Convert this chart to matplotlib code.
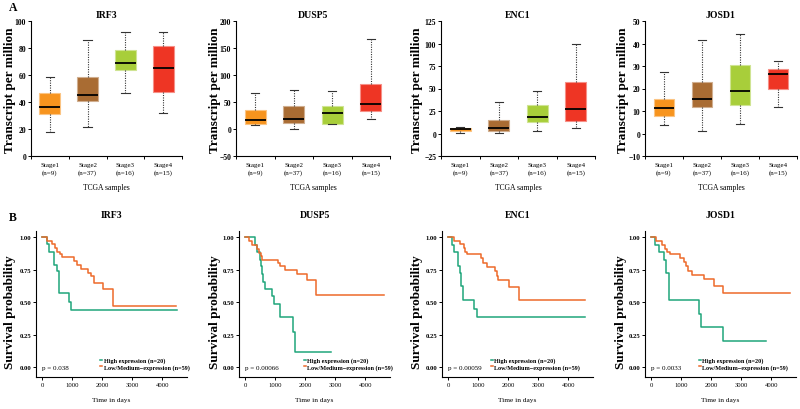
import matplotlib
matplotlib.use("Agg")
import matplotlib.pyplot as plt
import numpy as np

plt.rcParams['font.family'] = ['Liberation Serif', 'DejaVu Serif']

# ---- expression boxplots (panel A) ----
genes = ['IRF3', 'DUSP5', 'ENC1', 'JOSD1']
stages = ['Stage1\n(n=9)', 'Stage2\n(n=37)', 'Stage3\n(n=16)', 'Stage4\n(n=15)']
stage_colors = ['#F7941E', '#A96C33', '#A8CE3A', '#EE3524']

irf3_lo = [17.5, 21.5, 47.0, 31.5]
irf3_q1 = [31.3, 40.4, 63.8, 47.4]
irf3_med = [36.2, 45.4, 68.7, 65.0]
irf3_q3 = [46.6, 58.8, 78.7, 81.4]
irf3_hi = [58.3, 85.6, 91.8, 91.8]

dusp5_lo = [7.0, 0.6, 8.8, 19.4]
dusp5_q1 = [9.4, 10.6, 9.4, 33.0]
dusp5_med = [17.0, 19.0, 29.4, 46.0]
dusp5_q3 = [35.6, 42.0, 42.0, 84.0]
dusp5_hi = [67.0, 73.0, 70.6, 167.0]

enc1_lo = [1.0, 1.0, 2.9, 6.6]
enc1_q1 = [2.5, 3.3, 12.6, 14.1]
enc1_med = [5.5, 5.9, 18.2, 27.1]
enc1_q3 = [6.6, 15.2, 31.9, 57.6]
enc1_hi = [7.7, 35.3, 47.6, 99.7]

josd1_lo = [3.7, 1.3, 4.3, 11.6]
josd1_q1 = [7.6, 11.6, 12.8, 19.7]
josd1_med = [11.5, 15.4, 19.1, 26.6]
josd1_q3 = [15.4, 23.0, 30.4, 28.7]
josd1_hi = [27.2, 41.6, 44.3, 32.4]

box_ylims = [(0, 100, 20), (-50, 200, 50), (-25, 125, 25), (-10, 50, 10)]

# ---- survival curves (panel B) ----
irf3_high_t = [0, 166, 221, 387, 497, 552, 884, 961, 4508]
irf3_high_s = [1, 0.95, 0.89, 0.79, 0.74, 0.57, 0.50, 0.44, 0.44]
irf3_low_t = [0, 166, 331, 442, 497, 586, 663, 1072, 1182, 1293, 1547, 1624, 1735, 2044, 2354, 4475]
irf3_low_s = [1, 0.97, 0.95, 0.92, 0.89, 0.87, 0.85, 0.82, 0.79, 0.76, 0.73, 0.70, 0.65, 0.60, 0.47, 0.47]

dusp5_high_t = [0, 335, 413, 503, 536, 581, 615, 670, 894, 972, 1173, 1598, 1654, 2849]
dusp5_high_s = [1, 0.94, 0.89, 0.83, 0.78, 0.72, 0.66, 0.60, 0.55, 0.49, 0.39, 0.27, 0.12, 0.12]
dusp5_low_t = [0, 145, 223, 391, 480, 536, 581, 1095, 1173, 1341, 1726, 2067, 2369, 4615]
dusp5_low_s = [1, 0.97, 0.94, 0.91, 0.88, 0.86, 0.83, 0.80, 0.78, 0.75, 0.72, 0.67, 0.56, 0.56]

enc1_high_t = [0, 134, 190, 335, 391, 447, 503, 860, 950, 4580]
enc1_high_s = [1, 0.94, 0.89, 0.78, 0.73, 0.63, 0.52, 0.45, 0.39, 0.39]
enc1_low_t = [0, 190, 413, 525, 581, 637, 1084, 1173, 1285, 1564, 1620, 1676, 2034, 2369, 4580]
enc1_low_s = [1, 0.97, 0.95, 0.92, 0.89, 0.87, 0.84, 0.80, 0.77, 0.74, 0.70, 0.67, 0.62, 0.52, 0.52]

josd1_high_t = [0, 144, 255, 422, 511, 589, 1611, 1667, 2389, 3833]
josd1_high_s = [1, 0.94, 0.89, 0.83, 0.73, 0.52, 0.41, 0.31, 0.20, 0.20]
josd1_low_t = [0, 178, 367, 455, 533, 644, 978, 1089, 1178, 1222, 1367, 1756, 2111, 2400, 4622]
josd1_low_s = [1, 0.97, 0.94, 0.91, 0.89, 0.87, 0.84, 0.81, 0.78, 0.74, 0.71, 0.68, 0.63, 0.57, 0.57]

p_values = ['0.038', '0.00066', '0.00059', '0.0033']
high_label = 'High expression (n=20)'
low_label = 'Low/Medium\u2212expression (n=59)'
green = '#1FA57B'
orange = '#EE6A2A'

box_sets = [
    (irf3_lo, irf3_q1, irf3_med, irf3_q3, irf3_hi),
    (dusp5_lo, dusp5_q1, dusp5_med, dusp5_q3, dusp5_hi),
    (enc1_lo, enc1_q1, enc1_med, enc1_q3, enc1_hi),
    (josd1_lo, josd1_q1, josd1_med, josd1_q3, josd1_hi),
]
km_sets = [
    (irf3_high_t, irf3_high_s, irf3_low_t, irf3_low_s),
    (dusp5_high_t, dusp5_high_s, dusp5_low_t, dusp5_low_s),
    (enc1_high_t, enc1_high_s, enc1_low_t, enc1_low_s),
    (josd1_high_t, josd1_high_s, josd1_low_t, josd1_low_s),
]

W, H = 800, 410
fig = plt.figure(figsize=(8, 4.1), dpi=100)


def px_axes(left, right, top, bottom):
    return fig.add_axes([left / W, 1 - bottom / H, (right - left) / W, (bottom - top) / H])


def lighten(c, f=0.45):
    rgb = np.array(matplotlib.colors.to_rgb(c))
    return tuple(rgb + (1 - rgb) * f)


top_x = [(31, 182), (236, 390), (441, 595), (645, 797)]
top_ylab_x = [10, 215, 417, 623]
for i, gene in enumerate(genes):
    ax = px_axes(top_x[i][0], top_x[i][1], 22, 157)
    lo, q1, med, q3, hi = box_sets[i]
    stats = [dict(whislo=lo[k], q1=q1[k], med=med[k], q3=q3[k], whishi=hi[k], fliers=[])
             for k in range(4)]
    bp = ax.bxp(stats, positions=[1, 2, 3, 4], widths=0.55, patch_artist=True,
                showfliers=False, capwidths=0.22,
                medianprops=dict(color='black', lw=1.3),
                whiskerprops=dict(color='#333333', lw=0.8, ls=(0, (1, 1.2))),
                capprops=dict(color='#333333', lw=0.8))
    for patch, c in zip(bp['boxes'], stage_colors):
        patch.set_facecolor(c)
        patch.set_edgecolor(lighten(c))
        patch.set_linewidth(0.8)
    ymin, ymax, step = box_ylims[i]
    ax.set_ylim(ymin, ymax)
    ax.set_yticks(np.arange(ymin, ymax + step / 2, step))
    ax.set_xlim(0.5, 4.5)
    ax.set_xticks([1, 2, 3, 4])
    ax.set_xticks([0.5, 1.5, 2.5, 3.5, 4.5], minor=True)
    ax.set_xticklabels(stages, fontsize=5, linespacing=1.6)
    for lab in ax.get_yticklabels():
        lab.set_fontsize(5.5)
        lab.set_fontweight('bold')
    ax.tick_params(length=2, width=0.7, pad=1.5)
    ax.tick_params(axis='x', which='major', length=0, pad=4)
    ax.tick_params(axis='x', which='minor', length=2, width=0.7)
    for s in ['top', 'right']:
        ax.spines[s].set_visible(False)
    for s in ['left', 'bottom']:
        ax.spines[s].set_linewidth(0.8)
    ax.set_title(gene, fontsize=7, fontweight='bold', pad=3)
    ax.set_xlabel('TCGA samples', fontsize=5.5, labelpad=6)
    fig.text(top_ylab_x[i] / W, 1 - 90 / H, 'Transcript per million', rotation=90,
             ha='center', va='center', fontsize=9.5, fontweight='bold')

bot_x = [(36, 187), (239, 390), (442, 593), (645, 796)]
bot_ylab_x = [10, 215, 417, 621]
leg_x = [0.424, 0.428, 0.322, 0.356]
for i, gene in enumerate(genes):
    ax = px_axes(bot_x[i][0], bot_x[i][1], 232, 378)
    ht, hs, lt, ls = km_sets[i]
    ax.step(ht, hs, where='post', color=green, lw=1.1, label=high_label)
    ax.step(lt, ls, where='post', color=orange, lw=1.1, label=low_label)
    ax.set_xlim(-200, 4830)
    ax.set_ylim(-0.075, 1.05)
    ax.set_xticks([0, 1000, 2000, 3000, 4000])
    ax.set_yticks([0, 0.25, 0.5, 0.75, 1.0])
    ax.set_yticklabels(['0.00', '0.25', '0.50', '0.75', '1.00'], fontsize=4.8, fontweight='bold')
    for lab in ax.get_xticklabels():
        lab.set_fontsize(4.8)
    ax.tick_params(length=2, width=0.7, pad=1.5)
    for s in ['top', 'right']:
        ax.spines[s].set_visible(False)
    for s in ['left', 'bottom']:
        ax.spines[s].set_linewidth(0.8)
    ax.text(0, 0.0, 'p = ' + p_values[i], fontsize=5, va='center', ha='left')
    leg = ax.legend(loc='lower left', bbox_to_anchor=(leg_x[i], 0.05), frameon=False,
                    prop=dict(size=4.4, weight='bold'), handlelength=0.35,
                    handletextpad=0.25, labelspacing=0.15, borderpad=0, borderaxespad=0)
    ax.set_title(gene, fontsize=7, fontweight='bold', pad=10)
    ax.set_xlabel('Time in days', fontsize=5.3, labelpad=7)
    fig.text(bot_ylab_x[i] / W, 1 - 312 / H, 'Survival probability', rotation=90,
             ha='center', va='center', fontsize=9.5, fontweight='bold')

fig.text(13 / W, 1 - 8 / H, 'A', fontsize=8.5, fontweight='bold', ha='center', va='center')
fig.text(13 / W, 1 - 218 / H, 'B', fontsize=8.5, fontweight='bold', ha='center', va='center')

fig.savefig('out.png', dpi=100)
